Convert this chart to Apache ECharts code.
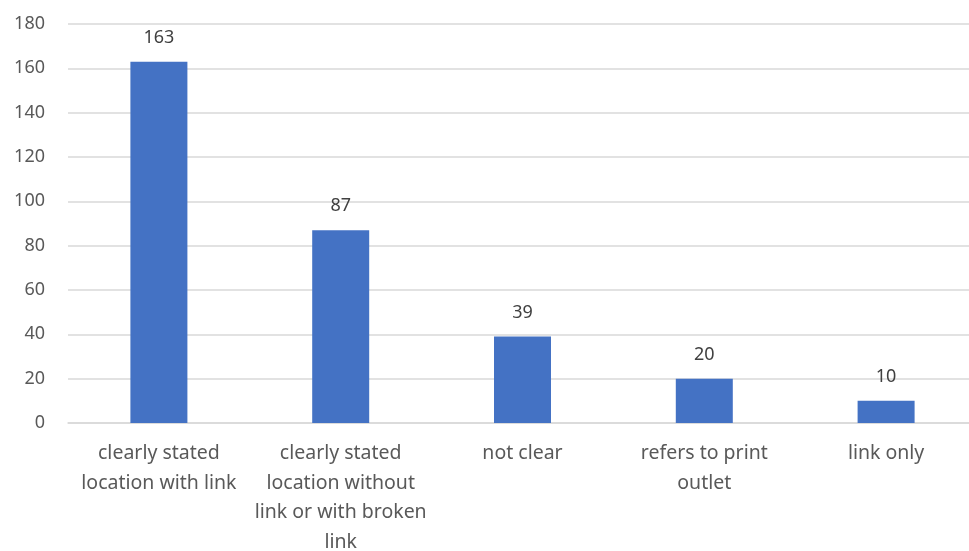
<!DOCTYPE html>
<html>
<head>
<meta charset="utf-8">
<script src="https://cdn.jsdelivr.net/npm/echarts@6/dist/echarts.min.js"></script>
<style>
  html, body { margin: 0; padding: 0; background: #fff; }
  #chart { width: 969px; height: 551px; }
</style>
</head>
<body>
<div id="chart"></div>
<script>
const categories = [
  'clearly stated\nlocation with link',
  'clearly stated\nlocation without\nlink or with broken\nlink',
  'not clear',
  'refers to print\noutlet',
  'link only'
];
const values = [163, 87, 39, 20, 10];
const yTicks = [0, 20, 40, 60, 80, 100, 120, 140, 160, 180];

const chart = echarts.init(document.getElementById('chart'));
const textColor = '#595959';
const font = '"Noto Sans", "Open Sans", sans-serif';

chart.setOption({
  animation: false,
  grid: {
    left: 68, top: 24, width: 909, bottom: 128,
    containLabel: false, outerBoundsMode: 'none'
  },
  xAxis: {
    type: 'category',
    data: categories,
    axisLine: { show: true, lineStyle: { color: '#d9d9d9', width: 1.5 } },
    axisTick: { show: false },
    axisLabel: {
      color: textColor, fontFamily: font, fontSize: 19.5,
      lineHeight: 29.5, margin: 16, interval: 0
    }
  },
  yAxis: {
    type: 'value',
    min: yTicks[0],
    max: yTicks[yTicks.length - 1],
    interval: 20,
    axisLine: { show: false },
    axisTick: { show: false },
    splitLine: { lineStyle: { color: '#d9d9d9', width: 1.5 } },
    axisLabel: { color: textColor, fontFamily: font, fontSize: 18, margin: 23 }
  },
  series: [{
    type: 'bar',
    data: values,
    barWidth: 57,
    itemStyle: { color: '#4472c4' },
    label: {
      show: true, position: 'top', distance: 15,
      color: '#404040', fontFamily: font, fontSize: 18
    }
  }]
});
</script>
</body>
</html>
